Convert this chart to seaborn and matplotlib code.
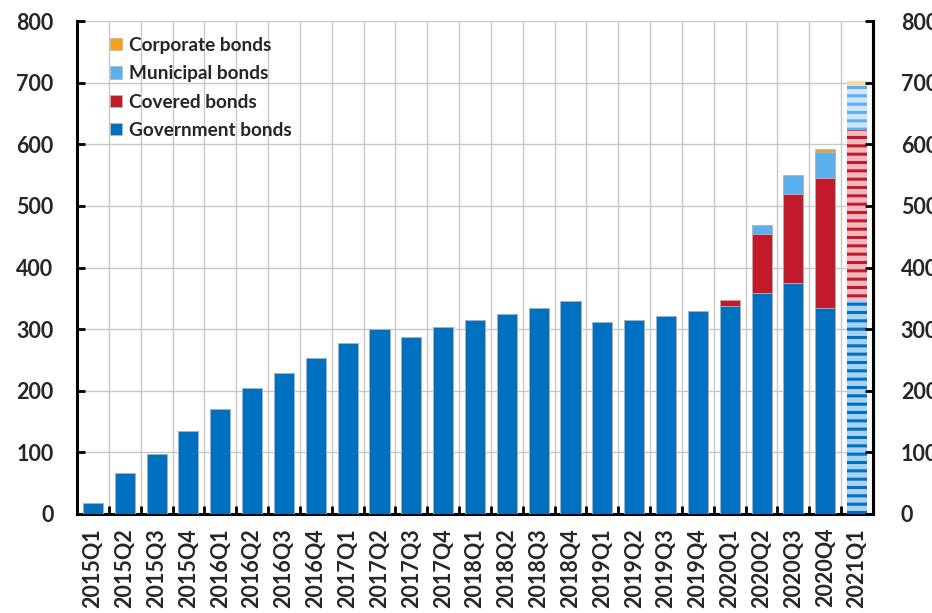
import numpy as np
import pandas as pd
import matplotlib
matplotlib.use("Agg")
import matplotlib.pyplot as plt
import seaborn as sns
from matplotlib.patches import Patch

quarters = ["2015Q1", "2015Q2", "2015Q3", "2015Q4",
            "2016Q1", "2016Q2", "2016Q3", "2016Q4",
            "2017Q1", "2017Q2", "2017Q3", "2017Q4",
            "2018Q1", "2018Q2", "2018Q3", "2018Q4",
            "2019Q1", "2019Q2", "2019Q3", "2019Q4",
            "2020Q1", "2020Q2", "2020Q3", "2020Q4", "2021Q1"]

government = [18, 67, 97, 134, 170, 204, 228, 253, 277, 300, 288, 304,
              314, 324, 334, 345, 311, 314, 321, 330, 338, 359, 375, 335, 348]
covered = [0, 0, 0, 0, 0, 0, 0, 0, 0, 0, 0, 0,
           0, 0, 0, 0, 0, 0, 0, 0, 9, 95, 145, 210, 275]
municipal = [0, 0, 0, 0, 0, 0, 0, 0, 0, 0, 0, 0,
             0, 0, 0, 0, 0, 0, 0, 0, 0, 15, 30, 43, 73]
corporate = [0, 0, 0, 0, 0, 0, 0, 0, 0, 0, 0, 0,
             0, 0, 0, 0, 0, 0, 0, 0, 0, 0, 0, 4, 6]

series_names = ["Government bonds", "Covered bonds", "Municipal bonds", "Corporate bonds"]
series_colors = ["#0070C0", "#C01A2B", "#5AB1EE", "#F2A21B"]
# lighter face colours for the projected (last) quarter, striped with the full colour
light_colors = ["#A9D1F0", "#F2B8C0", "#CFE6FA", "#FAD9A0"]

sns.set_theme(style="white")
plt.rcParams["font.family"] = ["Lato", "DejaVu Sans"]
plt.rcParams["font.weight"] = "bold"
plt.rcParams["hatch.linewidth"] = 2.2

fig = plt.figure(figsize=(9.32, 6.13), dpi=100)
ax = fig.add_axes([77 / 932, (613 - 514) / 613, (873 - 77) / 932, (514 - 21) / 613])

layers = [government, covered, municipal, corporate]
cum = np.cumsum(np.array(layers, dtype=float), axis=0)

df = pd.DataFrame({"quarter": quarters})
# draw cumulative totals from the top layer down so each layer shows its own slice
for i in reversed(range(len(layers))):
    df["value"] = cum[i]
    sns.barplot(data=df, x="quarter", y="value", color=series_colors[i],
                saturation=1, width=0.63, edgecolor="#B8B8B8", linewidth=0.6,
                ax=ax, zorder=3)
    last = ax.containers[-1].patches[-1]
    last.set_facecolor(light_colors[i])
    last.set_edgecolor(series_colors[i])
    last.set_hatch("--")
    last.set_linewidth(0)

ax.set_xlim(-0.5, len(quarters) - 0.5)
ax.set_ylim(0, 800)
ax.set_yticks(range(0, 801, 100))
ax.set_xlabel("")
ax.set_ylabel("")

# grid at category boundaries and every 100
for b in np.arange(0.5, len(quarters) - 0.5, 1):
    ax.axvline(b, color="#C8C8C8", lw=1.0, zorder=0)
for v in range(100, 801, 100):
    ax.axhline(v, color="#C8C8C8", lw=1.0, zorder=0)

ax.set_xticks(range(len(quarters)))
ax.set_xticklabels(quarters, rotation=90, fontsize=15.5, fontweight="bold")
ax.tick_params(axis="x", which="major", length=0, pad=10, bottom=True)
# small boundary ticks on the x axis pointing up
ax.set_xticks(np.arange(0.5, len(quarters) - 0.5, 1), minor=True)
ax.tick_params(axis="x", which="minor", direction="in", length=6, width=2,
               color="black", bottom=True)

ax.tick_params(axis="y", direction="in", length=6, width=2, color="black",
               labelsize=15.5, pad=17, left=True)
for lab in ax.get_yticklabels():
    lab.set_fontweight("bold")

for side in ["left", "bottom", "right"]:
    ax.spines[side].set_visible(True)
    ax.spines[side].set_color("black")
    ax.spines[side].set_linewidth(2.2)
ax.spines["top"].set_visible(False)

ax2 = ax.twinx()
ax2.set_ylim(0, 800)
ax2.set_yticks(range(0, 801, 100))
ax2.tick_params(axis="y", direction="in", length=6, width=2, color="black",
                labelsize=15.5, pad=20, right=True)
for lab in ax2.get_yticklabels():
    lab.set_fontweight("bold")
for side in ["left", "bottom", "top"]:
    ax2.spines[side].set_visible(False)
ax2.spines["right"].set_color("black")
ax2.spines["right"].set_linewidth(2.2)

handles = [Patch(facecolor=series_colors[i], edgecolor="#B8B8B8", linewidth=0.6,
                 label=series_names[i]) for i in reversed(range(len(layers)))]
leg = ax.legend(handles=handles, loc="upper left", bbox_to_anchor=(0.025, 0.995),
                frameon=False, fontsize=13.7, handlelength=0.6, handleheight=0.6,
                handletextpad=0.4, labelspacing=0.6, borderaxespad=0.3)
for t in leg.get_texts():
    t.set_fontweight("bold")

fig.savefig("out.png", dpi=100, facecolor="white")
